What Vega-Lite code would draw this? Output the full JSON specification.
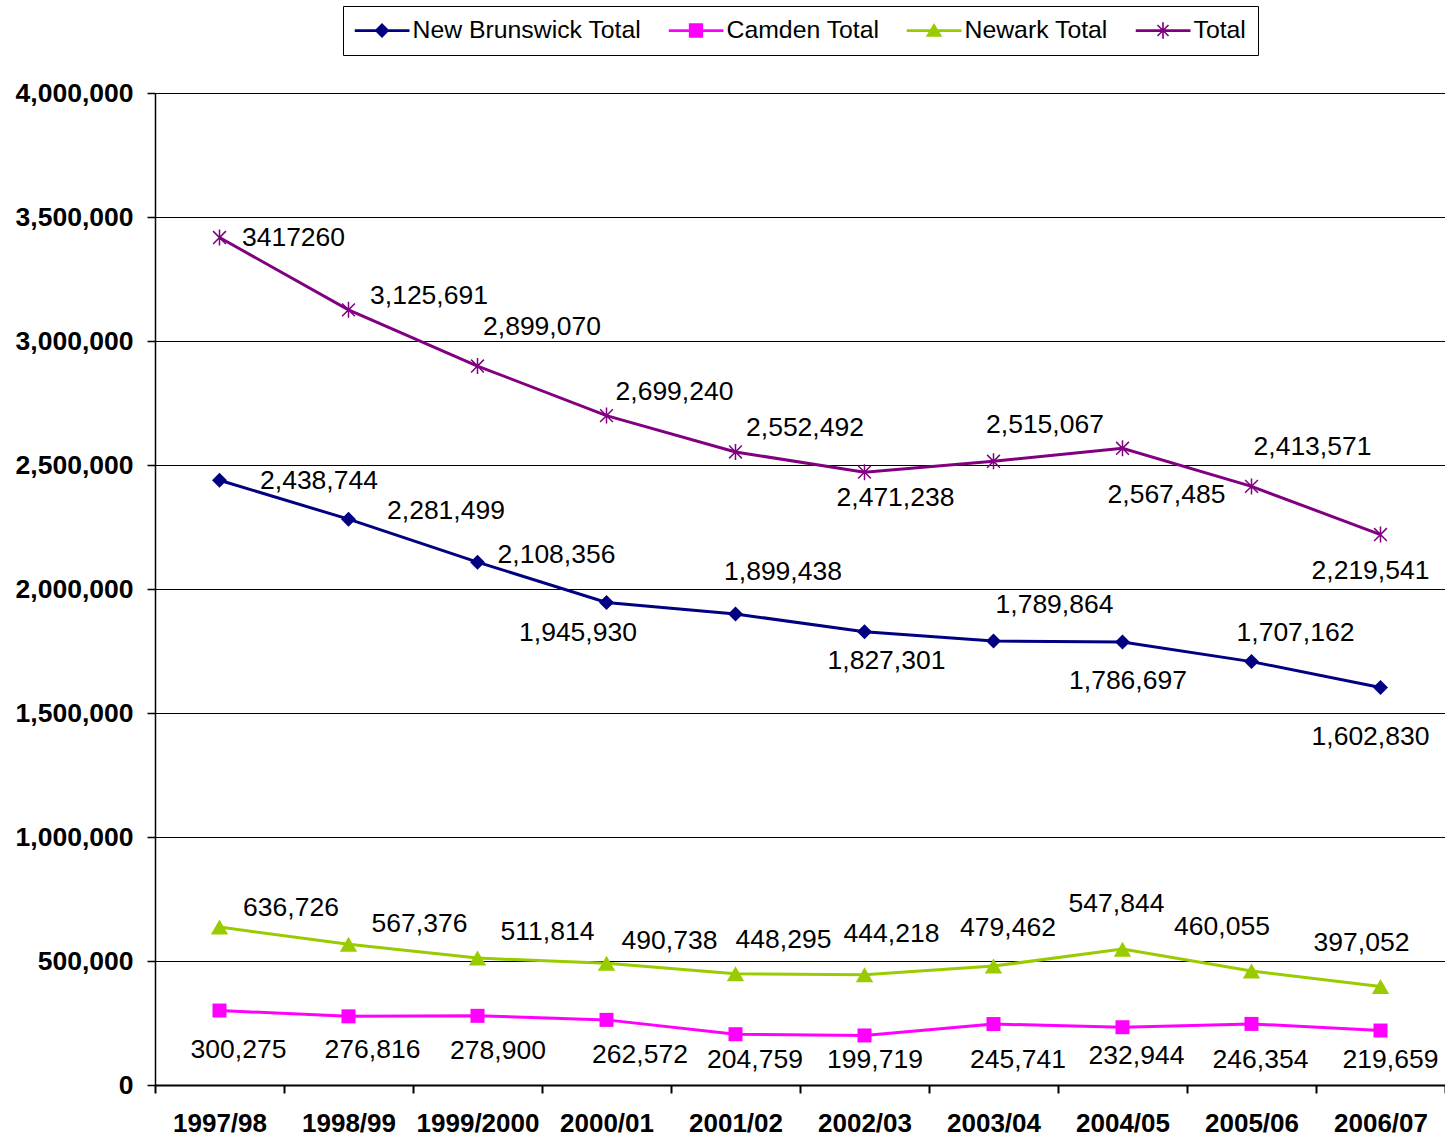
{
  "$schema": "https://vega.github.io/schema/vega-lite/v6.json",
  "width": 1290,
  "height": 992,
  "autosize": "none",
  "padding": {"left": 155, "top": 93, "right": 0, "bottom": 55},
  "background": "white",
  "config": {
    "view": {"stroke": "#999999", "strokeWidth": 1},
    "font": "Liberation Sans"
  },
  "params": [
    {"name": "years", "value": ["1997/98","1998/99","1999/2000","2000/01","2001/02","2002/03","2003/04","2004/05","2005/06","2006/07"]},
    {"name": "ldx", "value": {
      "New Brunswick Total": [99.5, 97.5, 79, -28.5, 47.5, 22, 61, 5.5, 44, -10],
      "Camden Total": [19, 24, 20.5, 33.5, 19.5, 10.5, 24.5, 14, 9, 10],
      "Newark Total": [71.5, 71, 70, 63, 48, 27, 14.5, -6, -29.5, -19],
      "Total": [74, 80.5, 64.5, 68, 69.5, 31, 51.5, 44, 61, -10]
    }},
    {"name": "ldy", "value": {
      "New Brunswick Total": [1, -8, -7, 31, -42, 29, -36, 39, -29, 49.5],
      "Camden Total": [39.5, 34, 35, 35, 26, 24.5, 36, 29, 36, 29.5],
      "Newark Total": [-19, -20, -26, -22, -34, -41, -38, -45, -44, -43.5],
      "Total": [0, -14, -39, -24, -24, 26, -36, 47, -39, 36]
    }}
  ],
  "data": {
    "values": [
      {"year": "1997/98", "series": "New Brunswick Total", "value": 2438744, "label": "2,438,744"},
      {"year": "1998/99", "series": "New Brunswick Total", "value": 2281499, "label": "2,281,499"},
      {"year": "1999/2000", "series": "New Brunswick Total", "value": 2108356, "label": "2,108,356"},
      {"year": "2000/01", "series": "New Brunswick Total", "value": 1945930, "label": "1,945,930"},
      {"year": "2001/02", "series": "New Brunswick Total", "value": 1899438, "label": "1,899,438"},
      {"year": "2002/03", "series": "New Brunswick Total", "value": 1827301, "label": "1,827,301"},
      {"year": "2003/04", "series": "New Brunswick Total", "value": 1789864, "label": "1,789,864"},
      {"year": "2004/05", "series": "New Brunswick Total", "value": 1786697, "label": "1,786,697"},
      {"year": "2005/06", "series": "New Brunswick Total", "value": 1707162, "label": "1,707,162"},
      {"year": "2006/07", "series": "New Brunswick Total", "value": 1602830, "label": "1,602,830"},
      {"year": "1997/98", "series": "Camden Total", "value": 300275, "label": "300,275"},
      {"year": "1998/99", "series": "Camden Total", "value": 276816, "label": "276,816"},
      {"year": "1999/2000", "series": "Camden Total", "value": 278900, "label": "278,900"},
      {"year": "2000/01", "series": "Camden Total", "value": 262572, "label": "262,572"},
      {"year": "2001/02", "series": "Camden Total", "value": 204759, "label": "204,759"},
      {"year": "2002/03", "series": "Camden Total", "value": 199719, "label": "199,719"},
      {"year": "2003/04", "series": "Camden Total", "value": 245741, "label": "245,741"},
      {"year": "2004/05", "series": "Camden Total", "value": 232944, "label": "232,944"},
      {"year": "2005/06", "series": "Camden Total", "value": 246354, "label": "246,354"},
      {"year": "2006/07", "series": "Camden Total", "value": 219659, "label": "219,659"},
      {"year": "1997/98", "series": "Newark Total", "value": 636726, "label": "636,726"},
      {"year": "1998/99", "series": "Newark Total", "value": 567376, "label": "567,376"},
      {"year": "1999/2000", "series": "Newark Total", "value": 511814, "label": "511,814"},
      {"year": "2000/01", "series": "Newark Total", "value": 490738, "label": "490,738"},
      {"year": "2001/02", "series": "Newark Total", "value": 448295, "label": "448,295"},
      {"year": "2002/03", "series": "Newark Total", "value": 444218, "label": "444,218"},
      {"year": "2003/04", "series": "Newark Total", "value": 479462, "label": "479,462"},
      {"year": "2004/05", "series": "Newark Total", "value": 547844, "label": "547,844"},
      {"year": "2005/06", "series": "Newark Total", "value": 460055, "label": "460,055"},
      {"year": "2006/07", "series": "Newark Total", "value": 397052, "label": "397,052"},
      {"year": "1997/98", "series": "Total", "value": 3417260, "label": "3417260"},
      {"year": "1998/99", "series": "Total", "value": 3125691, "label": "3,125,691"},
      {"year": "1999/2000", "series": "Total", "value": 2899070, "label": "2,899,070"},
      {"year": "2000/01", "series": "Total", "value": 2699240, "label": "2,699,240"},
      {"year": "2001/02", "series": "Total", "value": 2552492, "label": "2,552,492"},
      {"year": "2002/03", "series": "Total", "value": 2471238, "label": "2,471,238"},
      {"year": "2003/04", "series": "Total", "value": 2515067, "label": "2,515,067"},
      {"year": "2004/05", "series": "Total", "value": 2567485, "label": "2,567,485"},
      {"year": "2005/06", "series": "Total", "value": 2413571, "label": "2,413,571"},
      {"year": "2006/07", "series": "Total", "value": 2219541, "label": "2,219,541"}
    ]
  },
  "encoding": {
    "x": {
      "field": "year", "type": "ordinal",
      "sort": ["1997/98","1998/99","1999/2000","2000/01","2001/02","2002/03","2003/04","2004/05","2005/06","2006/07"],
      "scale": {"type": "band", "paddingInner": 0, "paddingOuter": 0},
      "axis": {
        "title": null, "labelAngle": 0, "labelFont": "Liberation Sans", "labelFontSize": 26,
        "labelFontWeight": "bold", "labelColor": "black", "labelPadding": 17,
        "labelOverlap": false, "labelBound": false,
        "tickBand": "extent", "tickSize": 8, "tickColor": "black", "tickWidth": 2,
        "domainColor": "black", "domainWidth": 2, "grid": false
      }
    },
    "y": {
      "field": "value", "type": "quantitative",
      "scale": {"domain": [0, 4000000], "nice": false, "zero": true},
      "axis": {
        "title": null, "values": [0, 500000, 1000000, 1500000, 2000000, 2500000, 3000000, 3500000, 4000000],
        "format": ",d", "labelFont": "Liberation Sans", "labelFontSize": 26.5, "labelFontWeight": "bold",
        "labelColor": "black", "labelPadding": 14, "labelOverlap": false, "labelFlush": false, "labelBound": false,
        "tickSize": 8, "tickColor": "black", "tickWidth": 1.5,
        "domainColor": "black", "domainWidth": 1.5,
        "grid": true, "gridColor": "black", "gridWidth": 1.2, "gridOpacity": 1
      }
    }
  },
  "layer": [
    {
      "transform": [{"filter": "false"}],
      "mark": {"type": "point", "filled": true, "opacity": 1},
      "encoding": {
        "color": {
          "field": "series", "type": "nominal",
          "scale": {"domain": ["New Brunswick Total", "Camden Total", "Newark Total", "Total"], "range": ["#000080", "#FF00FF", "#99CC00", "#800080"]},
          "legend": {
            "title": null, "orient": "none", "direction": "horizontal", "columns": 4,
            "legendX": 188, "legendY": -87,
            "padding": 11.5, "clipHeight": 26,
            "strokeColor": "black", "fillColor": "white",
            "symbolSize": 3025, "symbolOpacity": 1, "symbolStrokeWidth": 0,
            "labelFont": "Liberation Sans", "labelFontSize": 24.8, "labelColor": "black",
            "labelOffset": 3, "columnPadding": 27, "labelLimit": 400
          }
        },
        "shape": {
          "field": "series", "type": "nominal",
          "scale": {
            "domain": ["New Brunswick Total", "Camden Total", "Newark Total", "Total"],
            "range": [
              "M-1,-0.05H1V0.05H-1ZM0,-0.27L0.27,0L0,0.27L-0.27,0Z",
              "M-1,-0.05H1V0.05H-1ZM-0.26,-0.26H0.26V0.26H-0.26Z",
              "M-1,-0.05H1V0.05H-1ZM0,-0.27L0.3,0.23L-0.3,0.23Z",
              "M-1,-0.05H1V0.05H-1ZM-0.03,-0.3H0.03V0.3H-0.03ZM-0.179,-0.221L0.221,0.179L0.179,0.221L-0.221,-0.179ZM-0.221,0.179L0.179,-0.221L0.221,-0.179L-0.179,0.221Z"
            ]
          },
          "legend": {
            "title": null, "orient": "none", "direction": "horizontal", "columns": 4,
            "legendX": 188, "legendY": -87,
            "padding": 11.5, "clipHeight": 26,
            "strokeColor": "black", "fillColor": "white",
            "symbolSize": 3025, "symbolOpacity": 1, "symbolStrokeWidth": 0,
            "labelFont": "Liberation Sans", "labelFontSize": 24.8, "labelColor": "black",
            "labelOffset": 3, "columnPadding": 27, "labelLimit": 400
          }
        }
      }
    },
    {
      "mark": {"type": "line", "strokeWidth": 3},
      "encoding": {
        "color": {"field": "series", "type": "nominal"}
      }
    },
    {
      "transform": [{"filter": "datum.series === 'New Brunswick Total'"}],
      "mark": {"type": "point", "shape": "diamond", "filled": true, "size": 225, "opacity": 1},
      "encoding": {"color": {"field": "series", "type": "nominal"}}
    },
    {
      "transform": [{"filter": "datum.series === 'Camden Total'"}],
      "mark": {"type": "point", "shape": "square", "filled": true, "size": 196, "opacity": 1},
      "encoding": {"color": {"field": "series", "type": "nominal"}}
    },
    {
      "transform": [{"filter": "datum.series === 'Newark Total'"}],
      "mark": {"type": "point", "shape": "triangle-up", "filled": true, "size": 300, "opacity": 1},
      "encoding": {"color": {"field": "series", "type": "nominal"}}
    },
    {
      "transform": [{"filter": "datum.series === 'Total'"}],
      "mark": {"type": "point", "shape": "M0,-1V1M-0.8,-0.8L0.8,0.8M-0.8,0.8L0.8,-0.8", "filled": false, "size": 256, "strokeWidth": 1.5, "opacity": 1},
      "encoding": {"color": {"field": "series", "type": "nominal"}}
    },
    {
      "mark": {
        "type": "text", "align": "center", "baseline": "middle",
        "font": "Liberation Sans", "fontSize": 26.5, "color": "black",
        "dx": {"expr": "ldx[datum.series][indexof(years, datum.year)]"},
        "dy": {"expr": "ldy[datum.series][indexof(years, datum.year)]"}
      },
      "encoding": {"text": {"field": "label", "type": "nominal"}}
    }
  ]
}
